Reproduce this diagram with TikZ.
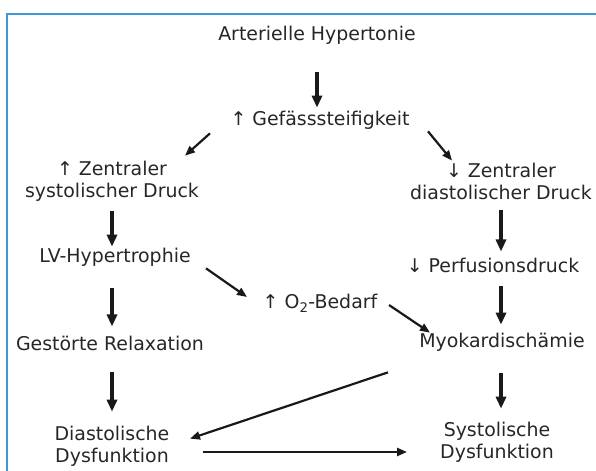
\documentclass[tikz,border=0pt]{standalone}
\usepackage{fontspec}
\setmainfont{DejaVu Sans}
\usepackage{tikz}
\usetikzlibrary{arrows.meta}

\definecolor{framecol}{HTML}{3D9AD6}
\definecolor{textcol}{HTML}{262626}

\tikzset{
  box/.style={inner sep=0pt, align=center, text=textcol, font=\fontsize{19}{22}\selectfont},
  fatarrow/.style={draw=black!90, line width=3.4bp, -{Triangle[length=12bp,width=10bp]}},
  thinarrow/.style={draw=black!90, line width=2.2bp, -{Triangle[length=10bp,width=8bp]}}
}

\begin{document}
\begin{tikzpicture}[x=1bp,y=-1bp]
  \useasboundingbox (0,0) rectangle (596,471);
  \draw[framecol, line width=2.2bp] (7,471) -- (7,14) -- (596,14);

  % middle column
  \node[box] (hyp) at (317,35) {Arterielle Hypertonie};
  \node[box] (gef) at (320,120) {↑ Gefässsteifigkeit};
  \node[box] (otwo) at (320,303) {↑ O\textsubscript{2}-Bedarf};
  % left column
  \node[box] (zsys) at (112,181) {↑ Zentraler\\systolischer Druck};
  \node[box] (lvh) at (115,257) {LV-Hypertrophie};
  \node[box] (rel) at (110,343) {Gestörte Relaxation};
  \node[box] (dia) at (112,446) {Diastolische\\Dysfunktion};
  % right column
  \node[box] (zdia) at (501,181) {↓ Zentraler\\diastolischer Druck};
  \node[box] (perf) at (493,265) {↓ Perfusionsdruck};
  \node[box] (myo) at (502,342) {Myokardischämie};
  \node[box] (sys) at (497,442) {Systolische\\Dysfunktion};

  % straight down
  \draw[fatarrow, shorten <=28bp, shorten >=3bp] (hyp.south) -- (hyp.south |- gef.north);
  \draw[fatarrow, shorten <=10bp, shorten >=1bp] (zsys.south) -- (zsys.south |- lvh.north);
  \draw[fatarrow, shorten <=22bp, shorten >=9bp] (lvh.south -| zsys.south) -- (zsys.south |- rel.north);
  \draw[fatarrow, shorten <=21bp, shorten >=14bp] (rel.south -| zsys.south) -- (zsys.south |- dia.north);
  \draw[fatarrow, shorten <=11bp, shorten >=6bp] (zdia.south) -- (zdia.south |- perf.north);
  \draw[fatarrow, shorten <=13bp, shorten >=8bp] (perf.south -| zdia.south) -- (zdia.south |- myo.north);
  \draw[fatarrow, shorten <=22bp, shorten >=13bp] (myo.south -| zdia.south) -- (zdia.south |- sys.north);

  % slanted
  \draw[thinarrow] ([shift={(-110,4)}]gef.south) -- ([shift={(73,-5)}]zsys.north);
  \draw[thinarrow] ([shift={(108,2)}]gef.south) -- ([shift={(-49,-2)}]zdia.north);
  \draw[thinarrow] ([shift={(91,2)}]lvh.south) -- ([shift={(-73,-6)}]otwo.center);
  \draw[thinarrow] ([shift={(69,2)}]otwo.center) -- ([shift={(-72,0)}]myo.north);
  \draw[thinarrow] ([shift={(-114,21)}]myo.south) -- ([shift={(78,13)}]dia.north);

  % across the bottom
  \coordinate (dsy) at ([shift={(0,6)}]dia.east);
  \draw[thinarrow, shorten <=33bp, shorten >=33bp] (dsy) -- (dsy -| sys.west);
\end{tikzpicture}
\end{document}
